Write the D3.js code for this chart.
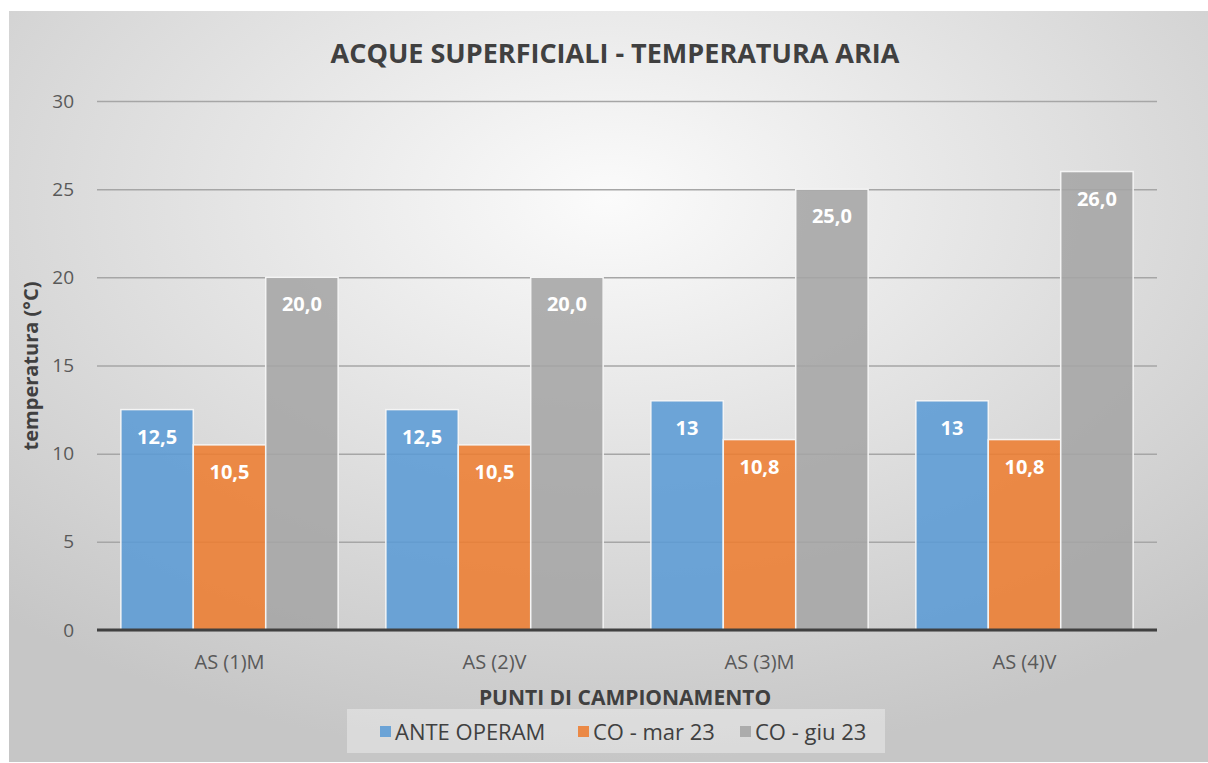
<!DOCTYPE html>
<html>
<head>
<meta charset="utf-8">
<script src="https://d3js.org/d3.v7.min.js"></script>
<style>
    body { margin: 0; background: #fff; }
    text { font-family: "Open Sans", "Liberation Sans", sans-serif; }
</style>
</head>
<body>
<div id="chart"></div>
<script>
// dati
const categories = ["AS (1)M", "AS (2)V", "AS (3)M", "AS (4)V"]
const seriesNames = ["ANTE OPERAM", "CO - mar 23", "CO - giu 23"]
const anteOperam = [12.5, 12.5, 13, 13]
const coMar23 = [10.5, 10.5, 10.8, 10.8]
const coGiu23 = [20.0, 20.0, 25.0, 26.0]
const yTicks = [0, 5, 10, 15, 20, 25, 30]

const W = 1208, H = 763

let svg = d3.select("#chart").append("svg")
    .attr("width", W)
    .attr("height", H)

let defs = svg.append("defs")
let grad = defs.append("radialGradient")
    .attr("id", "bg")
    .attr("cx", "50%").attr("cy", "25%").attr("r", "75%")
grad.append("stop").attr("offset", "0%").attr("stop-color", "#fbfbfb")
grad.append("stop").attr("offset", "100%").attr("stop-color", "#c6c6c6")

svg.append("rect")
    .attr("x", 9).attr("y", 11)
    .attr("width", W - 9).attr("height", H - 12)
    .attr("fill", "url(#bg)")

let x0 = d3.scaleBand()
    .domain(categories)
    .range([97, 1157])
    .paddingInner(0.18)
    .paddingOuter(0.09)

let x1 = d3.scaleBand()
    .domain(seriesNames)
    .range([0, x0.bandwidth()])

let y = d3.scaleLinear()
    .domain([0, 30])
    .range([630, 101])

let colors = d3.scaleOrdinal()
    .domain(seriesNames)
    .range(["#5b9bd5", "#ed7d31", "#a5a5a5"])

// griglia + etichette asse y
let yAxis = d3.axisLeft(y)
    .tickValues(yTicks)
    .tickSize(-(1157 - 97))
    .tickPadding(23)
    .tickFormat(d3.format("d"))

let gy = svg.append("g")
    .attr("transform", "translate(97,0)")
    .call(yAxis)
gy.select(".domain").remove()
gy.selectAll(".tick line").attr("stroke", "#a6a6a6").attr("stroke-width", 1.5)
gy.selectAll(".tick text")
    .attr("fill", "#595959")
    .style("font-size", "19px")

// barre
let rows = categories.map((c, i) => ({
    cat: c,
    vals: [anteOperam[i], coMar23[i], coGiu23[i]]
}))
let fmt = [d3.format(""), d3.format(".1f"), d3.format(".1f")]

let groups = svg.append("g")
    .selectAll("g")
    .data(rows)
    .enter()
    .append("g")
    .attr("transform", d => "translate(" + x0(d.cat) + ",0)")

groups.selectAll("rect")
    .data(d => d.vals.map((v, k) => ({ name: seriesNames[k], v: v, k: k })))
    .enter()
    .append("rect")
    .attr("x", d => x1(d.name))
    .attr("y", d => y(d.v))
    .attr("width", x1.bandwidth())
    .attr("height", d => y(0) - y(d.v))
    .attr("fill", d => colors(d.name))
    .attr("fill-opacity", 0.88)
    .attr("stroke", "#f4f4f4")
    .attr("stroke-width", 1.5)

groups.selectAll(".lbl")
    .data(d => d.vals.map((v, k) => ({ name: seriesNames[k], v: v, k: k })))
    .enter()
    .append("text")
    .attr("class", "lbl")
    .attr("x", d => x1(d.name) + x1.bandwidth() / 2)
    .attr("y", d => y(d.v) + 34)
    .attr("text-anchor", "middle")
    .attr("fill", "#fff")
    .style("font-size", "20px")
    .style("font-weight", "bold")
    .text(d => fmt[d.k](d.v).replace(".", ","))

// asse x
let xAxis = d3.axisBottom(x0).tickSize(0).tickPadding(25)
let gx = svg.append("g")
    .attr("transform", "translate(0,630)")
    .call(xAxis)
gx.select(".domain").remove()
gx.selectAll(".tick text")
    .attr("fill", "#595959")
    .style("font-size", "20px")

svg.append("line")
    .attr("x1", 97).attr("x2", 1157)
    .attr("y1", y(0)).attr("y2", y(0))
    .attr("stroke", "#404040")
    .attr("stroke-width", 3)

// titoli
svg.append("text")
    .attr("x", 615).attr("y", 63)
    .attr("text-anchor", "middle")
    .attr("fill", "#404040")
    .style("font-size", "27px")
    .style("font-weight", "bold")
    .text("ACQUE SUPERFICIALI - TEMPERATURA ARIA")

svg.append("text")
    .attr("transform", "translate(38,366) rotate(-90)")
    .attr("text-anchor", "middle")
    .attr("fill", "#404040")
    .style("font-size", "20px")
    .style("font-weight", "bold")
    .text("temperatura (°C)")

svg.append("text")
    .attr("x", 625).attr("y", 705)
    .attr("text-anchor", "middle")
    .attr("fill", "#404040")
    .style("font-size", "21px")
    .style("font-weight", "bold")
    .text("PUNTI DI CAMPIONAMENTO")

// legenda
svg.append("rect")
    .attr("x", 347).attr("y", 709)
    .attr("width", 538).attr("height", 44)
    .attr("fill", "#ffffff")
    .attr("fill-opacity", 0.35)

let legX = [380, 578, 740]
let leg = svg.append("g")
    .selectAll("g")
    .data(seriesNames)
    .enter()
    .append("g")
    .attr("transform", (d, i) => "translate(" + legX[i] + ",732)")

leg.append("rect")
    .attr("x", 0).attr("y", -6)
    .attr("width", 11).attr("height", 11)
    .attr("fill", d => colors(d))
    .attr("fill-opacity", 0.88)

leg.append("text")
    .attr("x", 15).attr("y", 8)
    .attr("fill", "#404040")
    .style("font-size", "22px")
    .text(d => d)
</script>
</body>
</html>
